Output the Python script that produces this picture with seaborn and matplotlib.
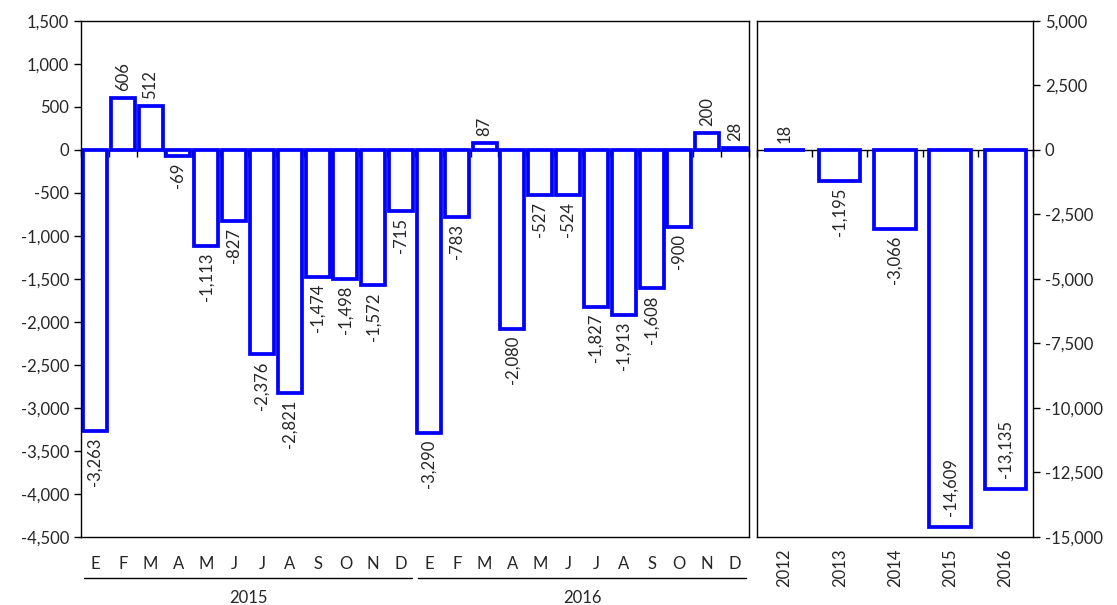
"""
Monthly (2015-2016) and annual (2012-2016) balance bars, two-panel chart.
"""

import matplotlib
matplotlib.use("Agg")
import matplotlib.pyplot as plt
import matplotlib.ticker as mticker
import matplotlib.transforms as mtransforms
import seaborn as sns
import pandas as pd

# Data
MONTHS = ["E", "F", "M", "A", "M", "J", "J", "A", "S", "O", "N", "D"]
YEARS_MONTHLY = ["2015", "2016"]
VALUES_2015 = [-3263, 606, 512, -69, -1113, -827, -2376, -2821, -1474, -1498, -1572, -715]
VALUES_2016 = [-3290, -783, 87, -2080, -527, -524, -1827, -1913, -1608, -900, 200, 28]
ANNUAL_YEARS = ["2012", "2013", "2014", "2015", "2016"]
ANNUAL_VALUES = [18, -1195, -3066, -14609, -13135]

BLUE = "#0000FF"

sns.set_theme(style="white")
plt.rcParams["font.family"] = ["Lato", "DejaVu Sans"]
plt.rcParams["font.size"] = 12

monthly = pd.DataFrame({
    "period": [f"{y}-{i}" for y in YEARS_MONTHLY for i in range(len(MONTHS))],
    "month": MONTHS * len(YEARS_MONTHLY),
    "value": VALUES_2015 + VALUES_2016,
})
annual = pd.DataFrame({"year": ANNUAL_YEARS, "value": ANNUAL_VALUES})

fig = plt.figure(figsize=(11.17, 6.05), dpi=100)
ax1 = fig.add_axes([0.0725, 0.1124, 0.598, 0.8529])
ax2 = fig.add_axes([0.6777, 0.1124, 0.2471, 0.8529])

fmt = mticker.FuncFormatter(lambda v, p: f"{v:,.0f}")


def fmt_label(v):
    return f"{v:,.0f}"


# Left panel: monthly
sns.barplot(data=monthly, x="period", y="value", color="white", saturation=1,
            edgecolor=BLUE, linewidth=2.7, width=0.86, ax=ax1)
ax1.set_ylim(-4500, 1500)
ax1.set_yticks(range(-4500, 1501, 500))
ax1.yaxis.set_major_formatter(fmt)
ax1.set_xlim(-0.5, len(monthly) - 0.5)
ax1.set_xticks(range(len(monthly)))
ax1.set_xticklabels(monthly["month"])
ax1.tick_params(axis="x", length=0, pad=14, labelsize=12)
ax1.tick_params(axis="y", length=5, width=1, direction="out", left=True, labelsize=12, color="black")
ax1.set_xlabel("")
ax1.set_ylabel("")

for bar, v in zip(ax1.patches, monthly["value"]):
    x = bar.get_x() + bar.get_width() / 2
    off = 5 if v >= 0 else -5
    ax1.annotate(fmt_label(v), (x, v), xytext=(0, off), textcoords="offset points",
                 rotation=90, ha="center", va="bottom" if v >= 0 else "top", fontsize=12)

# Year group underline and labels
trans = mtransforms.blended_transform_factory(ax1.transData, ax1.transAxes)
for i, yr in enumerate(YEARS_MONTHLY):
    start = i * len(MONTHS) - 0.4
    end = (i + 1) * len(MONTHS) - 0.6
    ax1.plot([start, end], [-0.08, -0.08], color="black", lw=1, transform=trans, clip_on=False)
    ax1.text((start + end) / 2, -0.118, yr, transform=trans, ha="center", va="center", fontsize=12)

# Right panel: annual
sns.barplot(data=annual, x="year", y="value", color="white", saturation=1,
            edgecolor=BLUE, linewidth=2.7, width=0.75, ax=ax2)
ax2.set_ylim(-15000, 5000)
ax2.set_yticks(range(-15000, 5001, 2500))
ax2.yaxis.set_major_formatter(fmt)
ax2.yaxis.tick_right()
ax2.set_xlim(-0.5, len(annual) - 0.5)
ax2.tick_params(axis="x", length=0, pad=8, labelsize=12, labelrotation=90)
ax2.tick_params(axis="y", length=5, width=1, direction="out", right=True, labelsize=12, color="black")
ax2.set_xlabel("")
ax2.set_ylabel("")

for bar, v in zip(ax2.patches, annual["value"]):
    x = bar.get_x() + bar.get_width() / 2
    if v >= 0:
        ax2.annotate(fmt_label(v), (x, v), xytext=(0, 5), textcoords="offset points",
                     rotation=90, ha="center", va="bottom", fontsize=12)
    elif v < -10000:
        ax2.annotate(fmt_label(v), (x, v), xytext=(0, 8), textcoords="offset points",
                     rotation=90, ha="center", va="bottom", fontsize=12)
    else:
        ax2.annotate(fmt_label(v), (x, v), xytext=(0, -5), textcoords="offset points",
                     rotation=90, ha="center", va="top", fontsize=12)

# Frames and zero axis with category tick marks
for ax, n in [(ax1, len(monthly)), (ax2, len(annual))]:
    for s in ax.spines.values():
        s.set_visible(True)
        s.set_color("black")
        s.set_linewidth(1)
    ax.grid(False)
    zero = (0 - ax.get_ylim()[0]) / (ax.get_ylim()[1] - ax.get_ylim()[0])
    sec = ax.secondary_xaxis(zero)
    sec.set_xticks([i + 0.5 for i in range(-1, n)])
    sec.set_xticklabels([])
    sec.tick_params(axis="x", direction="in", length=5, width=1, color="black")
    for s in sec.spines.values():
        s.set_linewidth(1)
        s.set_color("black")

fig.savefig("out.png", dpi=100)
